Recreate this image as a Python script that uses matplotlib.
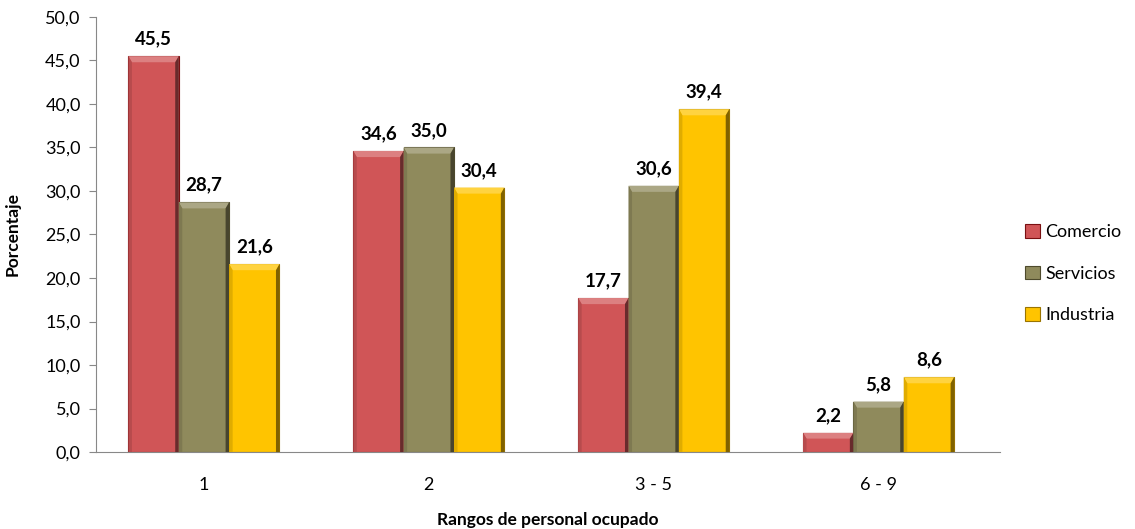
import numpy as np
import matplotlib.pyplot as plt
from matplotlib.patches import Polygon
from matplotlib.colors import to_rgb

# datos
rangos = ["1", "2", "3 - 5", "6 - 9"]
comercio = [45.5, 34.6, 17.7, 2.2]
servicios = [28.7, 35.0, 30.6, 5.8]
industria = [21.6, 30.4, 39.4, 8.6]
series = ["Comercio", "Servicios", "Industria"]

colores = ["#D05557", "#8F8A5C", "#FFC400"]
bordes = ["#7A1012", "#4E4A2C", "#9A7400"]

plt.rcParams["font.family"] = ["Lato", "DejaVu Sans"]

fig = plt.figure(figsize=(11.35, 5.29), dpi=100)
ax = fig.add_axes([96 / 1135, 1 - 452 / 529, 904 / 1135, (452 - 17) / 529])

x = np.arange(len(rangos))
ancho = 0.224


def mezcla(c, k):
    r = np.array(to_rgb(c))
    if k > 0:
        return tuple(r + (1 - r) * k)
    return tuple(r * (1 + k))


def biselar(ax, barras, color):
    # bisel tipo excel: claro arriba, oscuro a la derecha
    for b in barras:
        x0, y0 = b.get_x(), b.get_y()
        w, h = b.get_width(), b.get_height()
        dx = w * 0.07
        dy = min(0.7, h * 0.3)
        x1, y1 = x0 + w, y0 + h
        caras = [
            ([(x0, y1), (x1, y1), (x1 - dx, y1 - dy), (x0 + dx, y1 - dy)], mezcla(color, 0.25)),
            ([(x0, y0), (x0, y1), (x0 + dx, y1 - dy), (x0 + dx, y0)], mezcla(color, -0.12)),
            ([(x1, y0), (x1, y1), (x1 - dx, y1 - dy), (x1 - dx, y0)], mezcla(color, -0.5)),
        ]
        for pts, c in caras:
            ax.add_patch(Polygon(pts, closed=True, facecolor=c, edgecolor="none", zorder=3))


for i, (vals, nom) in enumerate(zip([comercio, servicios, industria], series)):
    pos = x + (i - 1) * ancho
    barras = ax.bar(pos, vals, ancho, color=colores[i], edgecolor=bordes[i],
                    linewidth=0.8, label=nom, zorder=2)
    biselar(ax, barras, colores[i])
    for p, v in zip(pos, vals):
        ax.text(p, v + 1.0, f"{v:.1f}".replace(".", ","), ha="center", va="bottom",
                fontsize=13.5, fontweight="bold", zorder=4)

ax.set_xlim(-0.48, 3.54)
ax.set_ylim(0, 50)
ticks = np.arange(0, 50.1, 5)
ax.set_yticks(ticks)
ax.set_yticklabels([f"{t:.1f}".replace(".", ",") for t in ticks], fontsize=13)
ax.set_xticks(x)
ax.set_xticklabels(rangos, fontsize=13)
ax.tick_params(axis="x", length=0, pad=18)
ax.tick_params(axis="y", length=5, color="#888888", pad=6)

for lado in ["top", "right"]:
    ax.spines[lado].set_visible(False)
ax.spines["left"].set_color("#888888")
ax.spines["bottom"].set_color("#888888")

ax.set_ylabel("Porcentaje", fontsize=12.5, fontweight="bold", labelpad=18)
ax.set_xlabel("Rangos de personal ocupado", fontsize=12.5, fontweight="bold", labelpad=14)

ax.legend(loc="center left", bbox_to_anchor=(1.01, 0.41), frameon=False, fontsize=13,
          handlelength=0.8, handleheight=0.8, handletextpad=0.3, labelspacing=1.4)

fig.savefig("out.png", dpi=100)
